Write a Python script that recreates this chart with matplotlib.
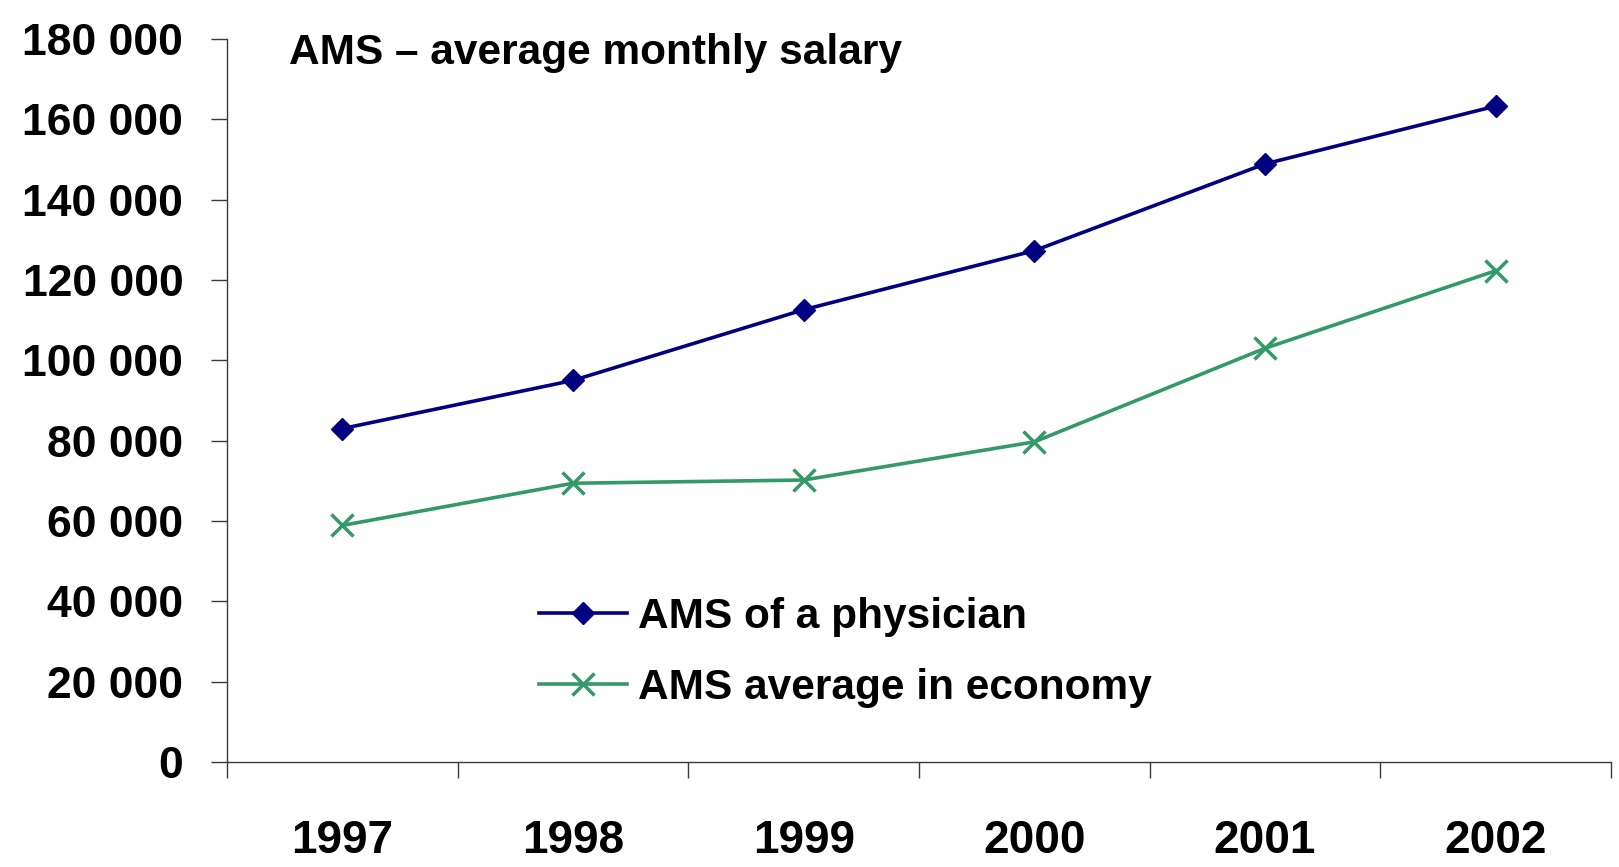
import matplotlib
matplotlib.use("Agg")
import matplotlib.pyplot as plt
from matplotlib.ticker import FixedLocator, FuncFormatter, NullFormatter

years = ["1997", "1998", "1999", "2000", "2001", "2002"]
physician = [83000, 95000, 112600, 127300, 148900, 163300]
economy = [58900, 69400, 70200, 79700, 103000, 122300]
yticks = [0, 20000, 40000, 60000, 80000, 100000, 120000, 140000, 160000, 180000]

plt.rcParams['font.family'] = ['Liberation Sans', 'DejaVu Sans']
plt.rcParams['font.weight'] = 'bold'

W, H = 1619, 867
fig = plt.figure(figsize=(W / 100, H / 100), dpi=100)
left, right, bottom, top = 227, 1611, 762, 39
ax = fig.add_axes([left / W, 1 - bottom / H, (right - left) / W, (bottom - top) / H])

x = [i + 0.5 for i in range(len(years))]
ax.plot(x, physician, color='#000080', lw=2.6, marker='D', markersize=11.5,
        label='AMS of a physician', clip_on=False)
ax.plot(x, economy, color='#339966', lw=2.6, marker='x', markersize=16.5,
        markeredgewidth=2.5, label='AMS average in economy', clip_on=False)

ax.set_xlim(0, len(years))
ax.set_ylim(0, 180000)

ax.spines['top'].set_visible(False)
ax.spines['right'].set_visible(False)
for s in ['left', 'bottom']:
    ax.spines[s].set_color('#3a3a3a')
    ax.spines[s].set_linewidth(1.0)

ax.xaxis.set_major_locator(FixedLocator(list(range(len(years) + 1))))
ax.xaxis.set_major_formatter(NullFormatter())
ax.xaxis.set_minor_locator(FixedLocator(x))
ax.set_xticklabels(years, minor=True)
ax.tick_params(axis='x', which='major', direction='out', length=11.5, width=1.0, color='#3a3a3a')
ax.tick_params(axis='x', which='minor', length=0, pad=41, labelsize=33)

ax.yaxis.set_major_locator(FixedLocator(yticks))
ax.yaxis.set_major_formatter(FuncFormatter(lambda v, p: f"{int(v):,}".replace(",", " ")))
ax.tick_params(axis='y', direction='out', length=11.5, width=1.0, color='#3a3a3a', pad=20, labelsize=32)

for lab in ax.get_xticklabels(minor=True) + ax.get_yticklabels():
    lab.set_fontweight('bold')

fig.text(289 / W, 1 - 53 / H, "AMS \u2013 average monthly salary", fontsize=30.5,
         fontweight='bold', va='center', ha='left')

leg = ax.legend(loc='upper left', bbox_to_anchor=(539 / W, 1 - 597 / H),
                bbox_transform=fig.transFigure, frameon=False, fontsize=30.5,
                handlelength=2.08, handletextpad=0.25, labelspacing=0.72,
                borderpad=0, borderaxespad=0)
for t in leg.get_texts():
    t.set_fontweight('bold')

fig.savefig("out.png", dpi=100)
